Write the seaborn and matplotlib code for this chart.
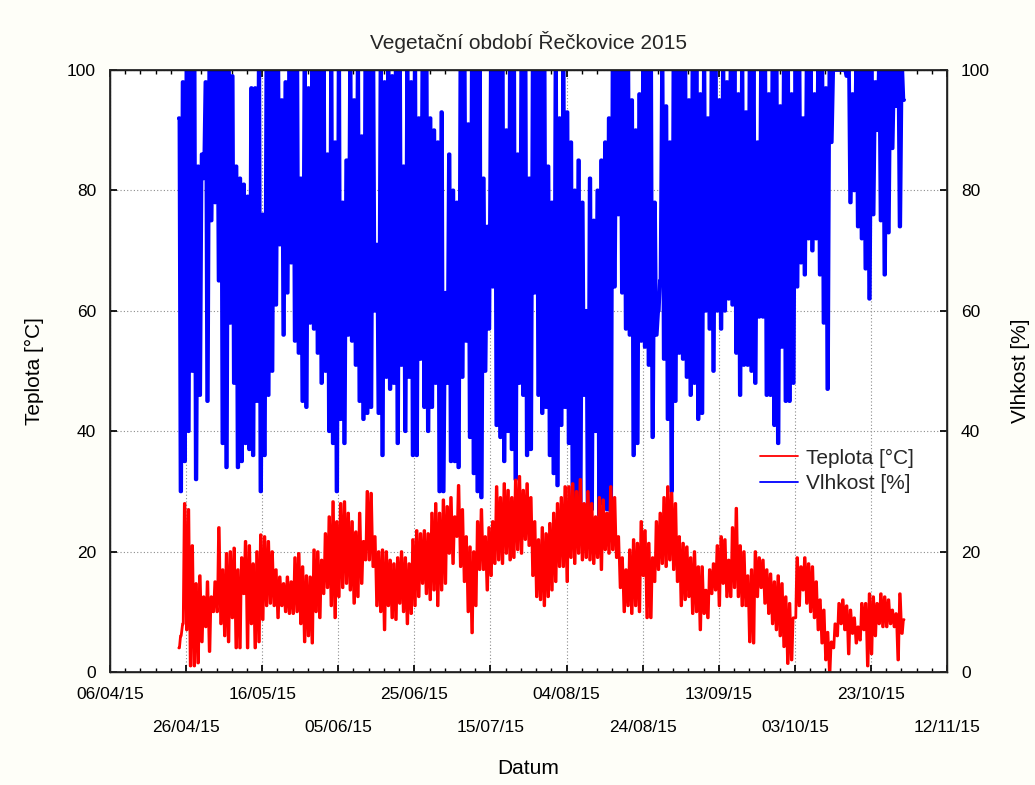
import matplotlib
matplotlib.use("Agg")
import matplotlib.pyplot as plt
import matplotlib.dates as mdates
import numpy as np
import pandas as pd
import seaborn as sns

START = "2015-04-24"

# daily readings, one value per day from 24/04/15
TEMP_MIN = [
    4, 8, 7, 1, 1, 1.5, 5, 7.5, 3.4, 10,
    10, 8, 6, 5, 9, 4, 4, 13, 4, 8,
    4, 5, 8.7, 11, 11.4, 11, 9, 11, 10, 9.7,
    9.7, 10, 8, 5, 6, 4.8, 10, 9, 13, 14,
    11, 9, 12.5, 14, 14.7, 13.6, 11.4, 12.5, 14.7, 18.6,
    18.6, 17.5, 11, 10, 7, 11, 9, 8.7, 11.4, 10,
    8, 9.7, 11, 12.5, 14.7, 13, 12, 13.6, 11, 13.6,
    14.7, 19.7, 18, 22.5, 17.5, 15, 10, 6.5, 11, 17,
    17, 13.6, 16, 18, 18.6, 18, 19.7, 18.6, 19, 20.3,
    19.7, 22, 21, 16, 12.5, 12, 11, 12.5, 13.6, 15,
    17.5, 17.5, 15, 19, 18, 19.7, 18.6, 19, 18.6, 18,
    19, 17, 20.3, 19.7, 20.3, 19, 14, 10, 11, 9.7,
    11, 10, 16, 9, 9, 15, 17, 18, 17.5, 18.6,
    17, 15, 11, 12, 12.5, 9.7, 10, 7, 9.7, 9,
    13, 13.6, 11, 14.7, 12.5, 12.5, 14, 12.5, 11, 11,
    5, 4.8, 12.5, 14, 11.4, 9.7, 8, 7, 6, 4.2,
    1.4, 2, 9, 11, 13.6, 11.4, 10, 9, 7, 4.8,
    2, 0, 4, 6, 8, 7, 3, 6.4, 4.8, 5.3,
    7, 1, 3, 6, 8, 7.5, 7.5, 8, 7.5, 2, 6.4,
]
TEMP_MAX = [
    6, 28, 27, 21, 14.7, 16, 12.5, 15, 12.5, 15,
    24, 17, 19.7, 20, 20.6, 17, 19, 21.7, 21, 18,
    20, 22.8, 22.5, 21.7, 20, 17, 15.8, 14.7, 15.8, 15,
    19, 19.7, 17.5, 16, 15.8, 20.3, 20, 18.6, 23, 25.8,
    28.3, 25, 28, 28.3, 26.4, 25, 23.3, 26.4, 21.7, 30,
    29.7, 22.5, 20, 20.3, 20, 18.6, 18, 19, 20, 19,
    18, 22, 23.5, 23, 23.5, 23, 26.4, 28, 26.4, 28.6,
    27.5, 29, 25.8, 31, 27, 22.5, 20.8, 20, 25, 27,
    22.5, 24, 25, 30.8, 29, 31.3, 30.2, 29, 31.9, 32.5,
    30.2, 31.3, 29, 25, 22, 24, 23, 24.7, 26.4, 28,
    29, 30.8, 30.8, 31.3, 30, 32, 28, 30, 28, 25.8,
    29, 28.6, 26.4, 30.8, 29, 22.5, 19, 17, 20.3, 22,
    21.4, 25, 23.5, 21.4, 19, 25, 26.4, 29, 30.8, 29.7,
    28, 22.5, 21.4, 20.8, 19, 20, 17.5, 17.5, 13.6, 17,
    18, 21, 22.5, 22, 18.6, 24, 27.2, 21, 20, 16,
    17, 20, 19, 18.6, 17, 16.3, 15, 16, 14.7, 12.5,
    11.4, 9, 19, 17.5, 19, 18, 17.5, 15, 12, 10.3,
    6.6, 5, 8, 11.4, 12, 11, 10.3, 9, 7.5, 11.4,
    11.4, 13, 12.5, 11.4, 13, 12.5, 12, 10.3, 9.7, 13, 8.7,
]
HUM_MIN = [
    30, 35, 40, 50, 32, 46, 82, 45, 75, 78,
    65, 38, 34, 58, 48, 34, 35, 38, 37, 36,
    45, 30, 36, 46, 50, 61, 71, 56, 63, 68,
    55, 53, 45, 44, 58, 57, 53, 48, 50, 40,
    38, 30, 42, 38, 56, 55, 51, 45, 42, 43,
    44, 60, 43, 36, 49, 47, 48, 38, 51, 40,
    49, 36, 36, 52, 44, 40, 44, 48, 30, 30,
    48, 35, 35, 34, 49, 55, 39, 33, 30, 29,
    50, 57, 64, 41, 39, 35, 40, 37, 32, 48,
    46, 36, 37, 63, 46, 43, 44, 36, 33, 31,
    41, 44, 38, 28, 26, 27, 46, 26, 27, 40,
    26, 28, 27, 25, 64, 76, 63, 57, 56, 36,
    38, 55, 54, 51, 39, 56, 65, 52, 42, 30,
    45, 53, 52, 49, 46, 48, 42, 43, 60, 57,
    50, 60, 57, 60, 62, 61, 53, 46, 51, 51,
    50, 48, 59, 59, 46, 46, 41, 38, 54, 45,
    45, 48, 64, 68, 66, 72, 70, 72, 66, 58,
    47, 88, 100, 100, 100, 99, 78, 80, 74, 72,
    67, 62, 76, 90, 75, 66, 73, 87, 94, 74, 95,
]
HUM_MAX = [
    92, 98, 100, 100, 100, 84, 86, 98, 100, 100,
    100, 100, 100, 100, 99, 84, 82, 81, 79, 97,
    97, 100, 76, 100, 100, 100, 100, 95, 98, 100,
    100, 100, 82, 100, 97, 100, 100, 100, 100, 86,
    100, 88, 100, 78, 85, 100, 95, 100, 89, 100,
    100, 100, 71, 100, 98, 100, 99, 100, 100, 84,
    100, 98, 100, 92, 100, 100, 92, 90, 88, 93,
    63, 86, 80, 78, 100, 100, 91, 100, 100, 100,
    82, 74, 100, 100, 100, 100, 90, 100, 100, 86,
    100, 100, 82, 100, 100, 100, 100, 84, 78, 100,
    92, 100, 93, 88, 80, 85, 78, 60, 82, 75,
    80, 85, 88, 92, 100, 100, 100, 100, 100, 95,
    90, 96, 100, 100, 100, 78, 60, 100, 94, 88,
    100, 100, 100, 100, 95, 100, 100, 96, 100, 92,
    100, 100, 95, 100, 98, 100, 100, 96, 100, 93,
    100, 100, 88, 100, 100, 96, 100, 100, 94, 100,
    100, 96, 100, 100, 92, 100, 100, 96, 100, 100,
    97, 100, 100, 100, 100, 100, 100, 96, 100, 100,
    100, 100, 100, 98, 100, 100, 100, 100, 100, 100, 100,
]

TICK_DATES = pd.date_range("2015-04-06", "2015-11-12", freq="20D")
MINOR_DATES = pd.date_range("2015-04-06", "2015-11-12", freq="4D")
Y_TICKS = [0, 20, 40, 60, 80, 100]

# hours of the day at which each daily reading is held
NIGHT_HOURS = [2, 6]
NOON_HOURS = [13, 17]


def daily_series(night, noon, name):
    days = pd.Timestamp(START) + pd.to_timedelta(np.arange(len(night)), unit="D")
    parts = []
    for h in NIGHT_HOURS:
        parts.append(pd.DataFrame({"Datum": days + pd.Timedelta(hours=h), name: night}))
    for h in NOON_HOURS:
        parts.append(pd.DataFrame({"Datum": days + pd.Timedelta(hours=h), name: noon}))
    return pd.concat(parts).sort_values("Datum").reset_index(drop=True)


temp = daily_series(TEMP_MIN, TEMP_MAX, "Teplota")
hum = daily_series(HUM_MAX, HUM_MIN, "Vlhkost")

sns.set_theme(style="ticks")
plt.rcParams["font.family"] = ["Liberation Sans", "DejaVu Sans"]

fig, ax = plt.subplots(figsize=(10.35, 7.85), dpi=100)
fig.patch.set_facecolor("#fefef8")
fig.subplots_adjust(left=110 / 1035, right=947 / 1035,
                    top=1 - 70 / 785, bottom=1 - 672 / 785)

sns.lineplot(data=hum, x="Datum", y="Vlhkost", color="#0000ff", lw=2.7,
             estimator=None, ax=ax, label="Vlhkost [%]")
sns.lineplot(data=temp, x="Datum", y="Teplota", color="#ff0000", lw=2.0,
             estimator=None, ax=ax, label="Teplota [°C]")

ax.set_xlim(TICK_DATES[0], TICK_DATES[-1])
ax.set_ylim(0, 100)
ax.set_yticks(Y_TICKS)
ax.set_xticks(mdates.date2num(TICK_DATES))
ax.set_xticks(mdates.date2num(MINOR_DATES), minor=True)
labels = [d.strftime("%d/%m/%y") if i % 2 == 0 else "\n" + d.strftime("%d/%m/%y")
          for i, d in enumerate(TICK_DATES)]
ax.set_xticklabels(labels)
for lab in ax.get_xticklabels():
    lab.set_linespacing(2.5)

ax.grid(True, which="major", linestyle=(0, (1, 2)), color="#8c8c8c", lw=0.8)
ax.set_axisbelow(True)
ax.tick_params(axis="x", which="both", direction="in", top=True, bottom=True,
               labelsize=12.5, pad=11, colors="black")
ax.tick_params(axis="x", which="major", length=5)
ax.tick_params(axis="x", which="minor", length=3)
ax.tick_params(axis="y", direction="in", left=True, length=5, labelsize=12.5,
               pad=10, colors="black")
for sp in ax.spines.values():
    sp.set_color("black")
    sp.set_linewidth(1.0)

ax2 = ax.twinx()
ax2.set_ylim(0, 100)
ax2.set_yticks(Y_TICKS)
ax2.tick_params(axis="y", direction="in", right=True, length=5, labelsize=12.5,
                pad=10, colors="black")
ax2.set_ylabel("Vlhkost [%]", fontsize=15, color="black")
ax2.yaxis.set_label_coords(1.077, 0.5)

ax.set_xlabel("Datum", fontsize=15, color="black")
ax.xaxis.set_label_coords(0.5, -0.1445)
ax.set_ylabel("Teplota [°C]", fontsize=15, color="black")
ax.yaxis.set_label_coords(-0.079, 0.5)
ax.set_title("Vegetační období Řečkovice 2015", fontsize=15, pad=15)

handles, names = ax.get_legend_handles_labels()
order = [names.index("Teplota [°C]"), names.index("Vlhkost [%]")]
leg = ax.legend([handles[i] for i in order], [names[i] for i in order],
                loc="upper left", bbox_to_anchor=(0.767, 0.385), borderaxespad=0,
                frameon=False, fontsize=15, handlelength=1.8, handletextpad=0.4,
                labelspacing=0.3)
for line in leg.get_lines():
    line.set_linewidth(1.3)

fig.savefig("out.png", dpi=100, facecolor=fig.get_facecolor())
